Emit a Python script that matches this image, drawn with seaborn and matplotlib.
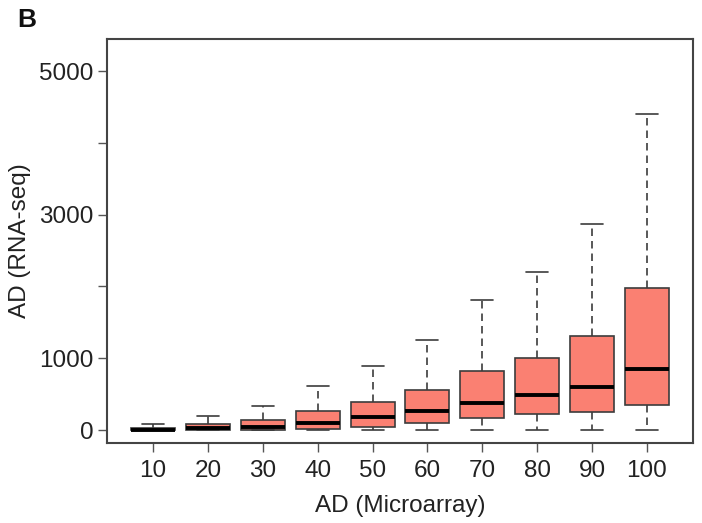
import numpy as np
import pandas as pd
import matplotlib
matplotlib.use("Agg")
import matplotlib.pyplot as plt
import seaborn as sns

# Five-number summaries (no outliers drawn)
categories = ["10", "20", "30", "40", "50", "60", "70", "80", "90", "100"]
lo  = [0, 0, 0, 0, 0, 0, 0, 0, 0, 0]
q1  = [0, 0, 0, 20, 46, 102, 162, 218, 250, 347]
med = [5, 28, 42, 97, 176, 259, 370, 486, 602, 852]
q3  = [25, 83, 139, 264, 393, 556, 824, 1005, 1306, 1977]
hi  = [80, 194, 333, 611, 893, 1250, 1806, 2199, 2870, 4407]

ytick_vals = [0, 1000, 2000, 3000, 4000, 5000]
ytick_labels = ["0", "1000", "", "3000", "", "5000"]

rows = []
for c, a, b, m, d, e in zip(categories, lo, q1, med, q3, hi):
    for v in (a, b, m, d, e):
        rows.append({"micro": c, "rna": v})
df = pd.DataFrame(rows)

sns.set_theme(style="white")
plt.rcParams["font.family"] = ["Liberation Sans", "DejaVu Sans"]

fig = plt.figure(figsize=(7.02, 5.23), dpi=100)
ax = fig.add_axes([107/702, 1 - 443/523, (693-107)/702, (443-39)/523])

edge = "#3c3c3c"
sns.boxplot(data=df, x="micro", y="rna", order=categories, ax=ax,
            color="#FA8072", saturation=1, width=0.8, whis=(0, 100),
            showfliers=False, linecolor=edge, linewidth=1.2,
            boxprops=dict(edgecolor=edge, linewidth=1.2),
            medianprops=dict(color="black", linewidth=2.8),
            whiskerprops=dict(color=edge, linewidth=1.2, linestyle=(0, (4.5, 3))),
            capprops=dict(color=edge, linewidth=1.2))

ax.set_xlim(-0.84, 9.84)
ax.set_ylim(-181, 5446)
ax.set_yticks(ytick_vals)
ax.set_yticklabels(ytick_labels)

ax.set_xlabel("AD (Microarray)", fontsize=17.5, color="#222222", labelpad=9)
ax.set_ylabel("AD (RNA-seq)", fontsize=17.5, color="#222222", labelpad=6)

ax.tick_params(axis="both", which="major", length=6.5, width=1,
               color="#555555", labelsize=17.5, labelcolor="#222222",
               left=True, bottom=True, pad=3)
ax.tick_params(axis="x", pad=6)
for s in ax.spines.values():
    s.set_visible(True)
    s.set_color("#444444")
    s.set_linewidth(1.5)

fig.text(17/702, 1 - 27/523, "B", fontsize=19, fontweight="bold",
         color="#111111", ha="left", va="baseline")

fig.savefig("out.png", dpi=100)
